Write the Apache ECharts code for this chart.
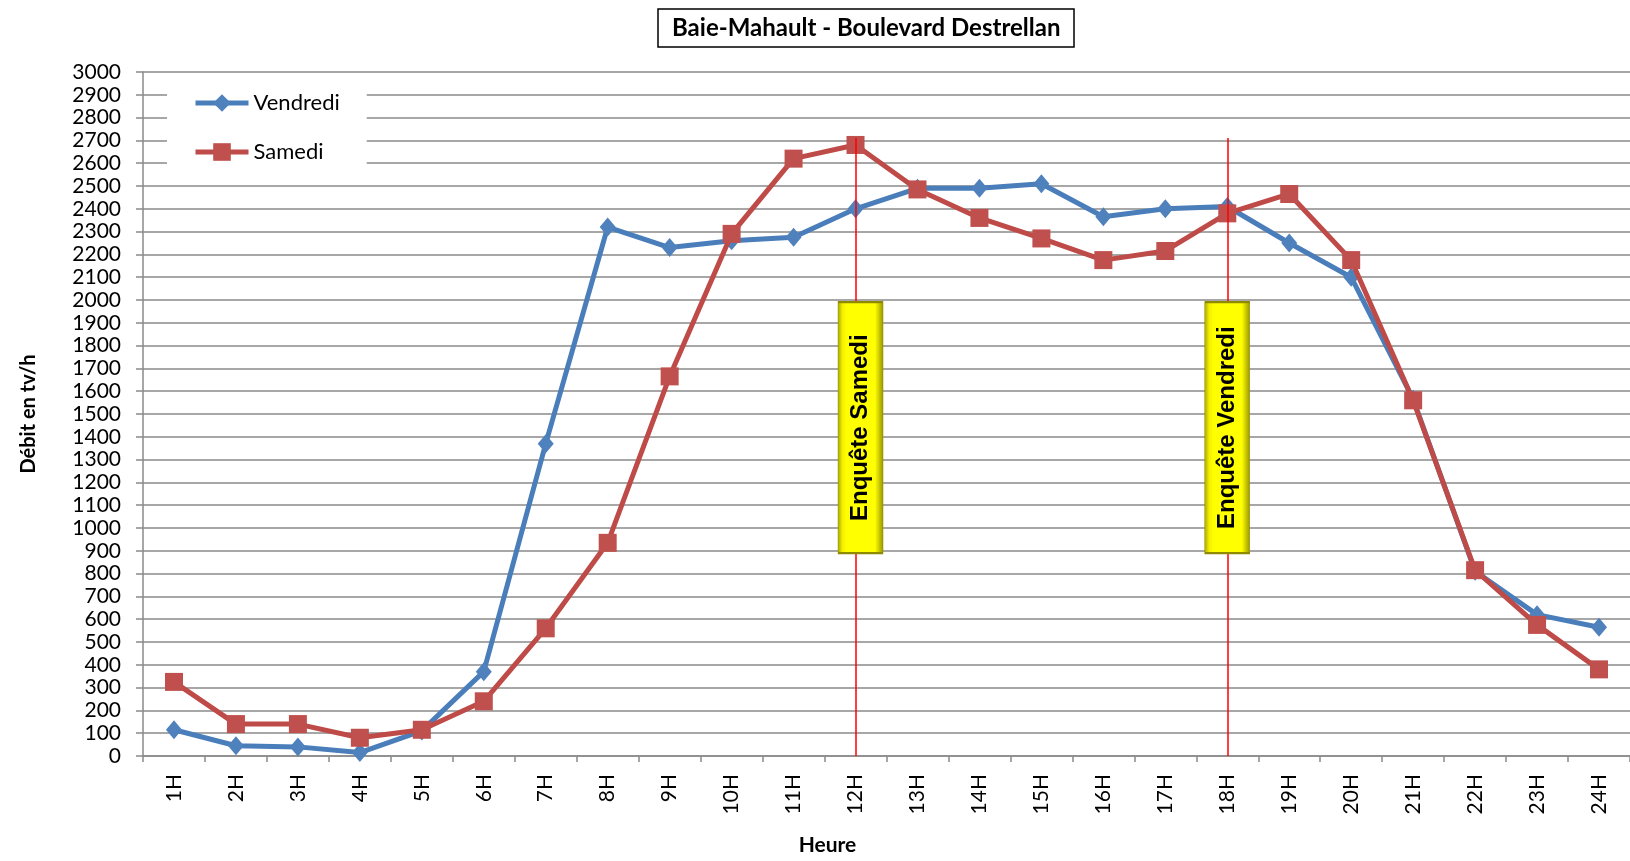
<!DOCTYPE html>
<html>
<head>
<meta charset="utf-8">
<title>Baie-Mahault - Boulevard Destrellan</title>
<script src="https://cdn.jsdelivr.net/npm/echarts@6/dist/echarts.min.js"></script>
<style>
  html, body { margin: 0; padding: 0; background: #fff; }
  #chart { width: 1630px; height: 861px; }
</style>
</head>
<body>
<div id="chart"></div>
<script>
// heures de comptage
const hours = ['1H', '2H', '3H', '4H', '5H', '6H', '7H', '8H', '9H', '10H', '11H', '12H',
  '13H', '14H', '15H', '16H', '17H', '18H', '19H', '20H', '21H', '22H', '23H', '24H'];
// débits tv/h
const vendredi = [115, 45, 40, 15, 110, 370, 1370, 2320, 2230, 2260, 2275, 2400,
  2490, 2490, 2510, 2365, 2400, 2410, 2250, 2100, 1565, 810, 620, 565];
const samedi = [325, 140, 140, 80, 115, 240, 560, 935, 1665, 2290, 2620, 2680,
  2485, 2360, 2270, 2175, 2215, 2380, 2465, 2175, 1560, 815, 575, 380];
// heures d'enquête
const surveyHours = ['12H', '18H'];
const surveyLabels = ['Enquête Samedi', 'Enquête Vendredi'];
const surveyLineTop = 2710;
const surveyBoxCenter = 1440;

const font = 'Lato, "Open Sans", sans-serif';
const gridColor = '#8a8a8a';

let myChart = echarts.init(document.getElementById('chart'));

let option = {
  animation: false,
  title: {
    text: 'Baie-Mahault - Boulevard Destrellan',
    left: 658,
    top: 9,
    padding: [7, 14, 7, 14],
    borderColor: '#000',
    borderWidth: 1.5,
    textStyle: {
      fontFamily: font,
      fontSize: 24,
      fontWeight: 'bold',
      color: '#000'
    }
  },
  legend: {
    data: ['Vendredi', 'Samedi'],
    orient: 'vertical',
    left: 167,
    top: 80,
    backgroundColor: '#fff',
    padding: [12, 27, 10, 26],
    itemWidth: 53,
    itemHeight: 22,
    itemGap: 27,
    lineStyle: { width: 5 },
    textStyle: {
      fontFamily: font,
      fontSize: 22,
      color: '#000'
    }
  },
  grid: {
    left: 143,
    top: 72,
    width: 1500,
    height: 690
  },
  xAxis: {
    type: 'category',
    data: hours,
    boundaryGap: true,
    name: 'Heure',
    nameLocation: 'middle',
    nameGap: 79,
    nameTextStyle: {
      fontFamily: font,
      fontSize: 21,
      fontWeight: 'bold',
      color: '#000',
      padding: [0, 118, 0, 0]
    },
    axisLine: { show: true, lineStyle: { color: gridColor, width: 1.5 } },
    axisTick: { show: true, length: 6, lineStyle: { color: gridColor, width: 1.5 } },
    axisLabel: {
      rotate: 90,
      margin: 18,
      fontFamily: font,
      fontSize: 21,
      color: '#000'
    }
  },
  yAxis: {
    type: 'value',
    min: 0,
    max: 3000,
    interval: 100,
    name: 'Débit en tv/h',
    nameLocation: 'middle',
    nameGap: 104,
    nameTextStyle: {
      fontFamily: font,
      fontSize: 20,
      fontWeight: 'bold',
      color: '#000'
    },
    axisLine: { show: true, lineStyle: { color: gridColor, width: 1.5 } },
    axisTick: { show: true, length: 7, lineStyle: { color: gridColor, width: 1.5 } },
    splitLine: { show: true, lineStyle: { color: gridColor, width: 1.5 } },
    axisLabel: {
      margin: 22,
      fontFamily: font,
      fontSize: 21,
      color: '#000',
      formatter: v => String(v)
    }
  },
  series: [
    {
      name: 'Vendredi',
      type: 'line',
      data: vendredi,
      symbol: 'diamond',
      symbolSize: [16, 19],
      z: 2,
      lineStyle: { color: '#4a7ebb', width: 5 },
      itemStyle: { color: '#4f81bd' }
    },
    {
      name: 'Samedi',
      type: 'line',
      data: samedi,
      symbol: 'rect',
      symbolSize: 18,
      z: 3,
      lineStyle: { color: '#be4b48', width: 5 },
      itemStyle: { color: '#c0504d' }
    },
    {
      name: 'Enquête',
      type: 'line',
      data: [],
      z: 4,
      markLine: {
        z: 5,
        silent: true,
        symbol: ['none', 'none'],
        label: { show: false },
        lineStyle: { color: '#ff0000', width: 1.5, type: 'solid' },
        data: surveyHours.map(h => [
          { coord: [h, surveyLineTop] },
          { coord: [h, 0] }
        ])
      },
      markPoint: {
        z: 6,
        silent: true,
        symbol: 'rect',
        symbolSize: [45, 251],
        itemStyle: {
          color: new echarts.graphic.LinearGradient(0, 0, 1, 0, [
            { offset: 0, color: '#a9a400' },
            { offset: 0.1, color: '#f2f000' },
            { offset: 0.2, color: '#ffff00' },
            { offset: 0.82, color: '#ffff00' },
            { offset: 1, color: '#999300' }
          ]),
          borderColor: '#8f8a00',
          borderWidth: 1
        },
        label: {
          show: true,
          position: 'inside',
          rotate: 90,
          formatter: '{b}',
          fontFamily: '"Liberation Sans", Arial, sans-serif',
          fontSize: 24,
          fontWeight: 'bold',
          color: '#000'
        },
        data: surveyHours.map((h, i) => ({
          name: surveyLabels[i],
          coord: [h, surveyBoxCenter],
          symbolOffset: [i === 0 ? 5 : 0, 0]
        }))
      }
    }
  ]
};
myChart.setOption(option, true);

window.addEventListener('resize', () => {
  myChart.resize();
});
</script>
</body>
</html>
